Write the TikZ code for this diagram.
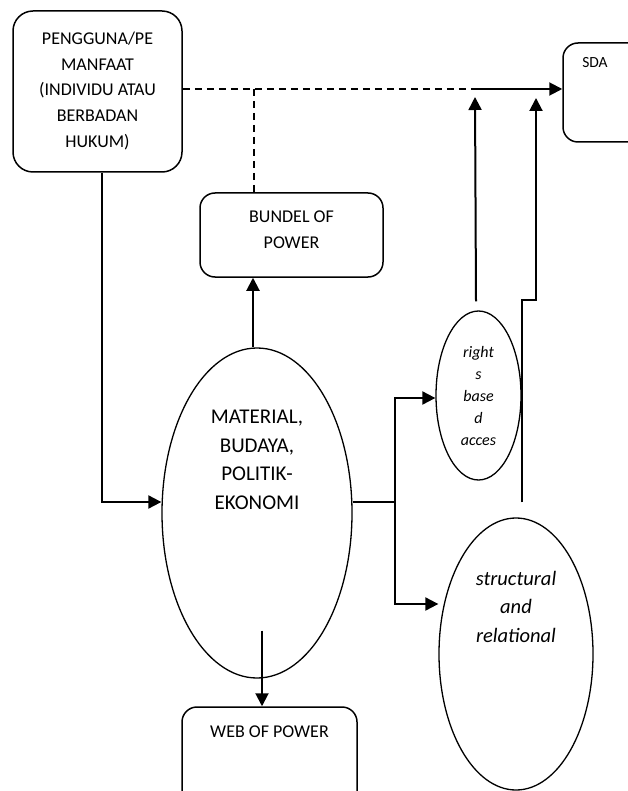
\documentclass[tikz,border=0pt]{standalone}
\usepackage{fontspec}
\setmainfont{Carlito}
\usetikzlibrary{shapes.geometric,arrows.meta,calc}
\begin{document}
\begin{tikzpicture}[x=1pt,y=1pt,
  box/.style={draw,line width=1.5pt,rounded corners=15pt,inner sep=0pt},
  oval/.style={draw,ellipse,line width=1.3pt,inner sep=0pt},
  txt/.style={align=center,inner sep=0pt,font=\fontsize{18}{25.7}\selectfont},
  conn/.style={line width=2pt,-{Triangle[length=13pt,width=13pt]}},
  link/.style={line width=2pt},
  dashlink/.style={line width=1.5pt,dash pattern=on 7pt off 5pt}]
\useasboundingbox (0,0) rectangle (627,-791);
% boxes
\node[box,rounded corners=20pt,minimum width=169pt,minimum height=161pt] (peng) at (97.5,-91.5) {};
\node[txt] (pengt) at (97.5,-91) {PENGGUNA/PE\\MANFAAT\\(INDIVIDU ATAU\\BERBADAN\\HUKUM)};
\node[box,minimum width=183pt,minimum height=84pt] (bundel) at (291.5,-235) {};
\node[txt] (bundelt) at (291.5,-230) {BUNDEL OF\\POWER};
\node[box,minimum width=84pt,minimum height=99pt] (sda) at (605,-92.5) {};
\node[txt,font=\fontsize{15.5}{20}\selectfont] (sdat) at (595,-63) {SDA};
\node[box,minimum width=175pt,minimum height=112pt] (web) at (269.5,-763) {};
\node[txt] (webt) at (269.5,-732) {WEB OF POWER};
% ovals
\node[oval,minimum width=190pt,minimum height=330pt] (material) at (257,-513) {};
\node[txt,font=\fontsize{21}{28.5}\selectfont] (materialt) at (257,-460) {MATERIAL,\\BUDAYA,\\POLITIK-\\EKONOMI};
\node[oval,minimum width=85pt,minimum height=169pt] (rights) at (478.5,-395.5) {};
\node[txt,font=\fontsize{16}{22}\itshape\selectfont] (rightst) at (478.5,-396) {right\\s\\base\\d\\acces};
\node[oval,minimum width=154pt,minimum height=272pt] (structural) at (516,-654) {};
\node[txt,font=\fontsize{20.5}{28.5}\itshape\selectfont] (structuralt) at (516,-606.5) {structural\\and\\relational};
% junctions
\coordinate (j1) at (475,-89);
\coordinate (j2) at (254,-89);
\coordinate (split) at (395,-502);
\coordinate (t2) at (536,-98);
\coordinate (bend) at (522,-300);
% connectors
\draw[dashlink] (peng.east |- j1) -- (j1);
\draw[conn] (j1) -- (j1 -| sda.west);
\draw[dashlink] (j2) -- (j2 |- bundel.north);
\draw[conn] ([xshift=-4pt]material.north) -- ([xshift=-4pt]material.north |- bundel.south);
\draw[conn] ([xshift=4.5pt]peng.south) |- ([yshift=11pt]material.west);
\draw[link] ([yshift=11pt]material.east) -- (split);
\draw[conn] (split) |- ($(rights.west)+(0,-2.5)$);
\draw[conn] (split) |- ($(structural.west)+(0,50)$);
\draw[conn] ($(rights.north)+(-2.5,9)$) -- ($(j1)+(0,-8)$);
\draw[conn] ($(structural.north)+(6,15)$) -- (bend) -| (t2);
\draw[conn] ($(material.south)+(5,48)$) -- ($(web.north)+(-7.5,0)$);
\end{tikzpicture}
\end{document}
